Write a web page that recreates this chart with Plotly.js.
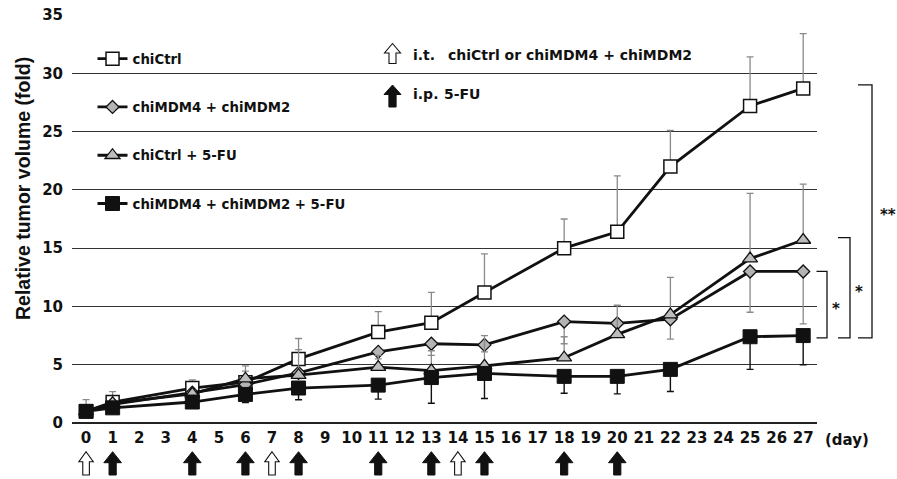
<!DOCTYPE html>
<html>
<head>
<meta charset="utf-8">
<script src="https://cdn.plot.ly/plotly-3.0.1.min.js"></script>
<style>html,body{margin:0;padding:0;background:#fff;}#chart{width:897px;height:479px;}</style>
</head>
<body>
<div id="chart"></div>
<script>
// ---- data ----
const days = [0, 1, 4, 6, 8, 11, 13, 15, 18, 20, 22, 25, 27];
const dayTicks = [0,1,2,3,4,5,6,7,8,9,10,11,12,13,14,15,16,17,18,19,20,21,22,23,24,25,26,27];
const yTicks = [0, 5, 10, 15, 20, 25, 30, 35];

const seriesNames = ['chiCtrl', 'chiMDM4 + chiMDM2', 'chiCtrl + 5-FU', 'chiMDM4 + chiMDM2 + 5-FU'];

const chiCtrl      = [1.0, 1.8, 3.0, 3.5, 5.5, 7.8, 8.6, 11.2, 15.0, 16.4, 22.0, 27.2, 28.7];
const chiCtrlErrUp = [1.0, 0.9, 0.7, 0.95, 1.75, 1.75, 2.6, 3.3, 2.5, 4.8, 3.1, 4.2, 4.7];

const chiMDM        = [1.0, 1.6, 2.6, 3.3, 4.3, 6.1, 6.8, 6.7, 8.7, 8.55, 8.9, 13.0, 13.0];
const chiMDMErrDown = [0.0, 0.2, 0.3, 0.5, 0.5, 0.6, 1.0, 0.6, 1.9, 1.2, 1.7, 3.5, 4.5];

const ctrl5FU      = [1.0, 1.7, 2.5, 3.8, 4.1, 4.8, 4.5, 4.9, 5.6, 7.6, 9.3, 14.1, 15.7];
const ctrl5FUErrUp = [0.0, 0.3, 0.3, 1.1, 2.2, 1.0, 1.7, 2.6, 1.8, 2.5, 3.2, 5.6, 4.8];

const mdm5FU        = [1.0, 1.3, 1.8, 2.45, 3.0, 3.25, 3.9, 4.25, 4.0, 4.0, 4.6, 7.4, 7.5];
const mdm5FUErrDown = [0.0, 0.2, 0.3, 0.7, 1.0, 1.2, 2.2, 2.15, 1.45, 1.5, 1.9, 2.8, 2.5];

const itDays = [0, 7, 14];                       // open arrows: i.t.
const ipDays = [1, 4, 6, 8, 11, 13, 15, 18, 20]; // filled arrows: i.p.

const itLabel = ['i.t.', 'chiCtrl or chiMDM4 + chiMDM2'];
const ipLabel = ['i.p.', '5-FU'];
const yTitle = 'Relative tumor volume (fold)';
const xUnit = '(day)';

// ---- styling ----
const FONT = 'DejaVu Sans, Liberation Sans, Arial, sans-serif';
const FONT_V = 'Liberation Sans, Arial, sans-serif';
const INK = '#111111';
const ERRGRAY = '#8a8a8a';
const L = 72, R = 80, T = 15, B = 56, W = 897, H = 479;
const PW = W - L - R;
const px2paperX = p => (p - L) / PW;
const zeros = days.map(() => 0);

function trace(name, y, group, marker, err) {
  return {
    x: days, y: y, name: name, type: 'scatter', mode: 'lines+markers',
    legendgroup: group, cliponaxis: false,
    line: {color: INK, width: 2.8},
    marker: marker,
    error_y: err,
    hoverinfo: 'x+y'
  };
}

const traces = [
  trace(seriesNames[0], chiCtrl, 'g1',
    {symbol: 'square', size: 13, color: '#ffffff', line: {color: INK, width: 1.5}},
    {type: 'data', symmetric: false, array: chiCtrlErrUp, arrayminus: zeros, color: ERRGRAY, thickness: 1.3, width: 3.5}),
  trace(seriesNames[1], chiMDM, 'g2',
    {symbol: 'diamond', size: 10, color: '#b4b4b4', line: {color: INK, width: 1.3}},
    {type: 'data', symmetric: false, array: zeros, arrayminus: chiMDMErrDown, color: ERRGRAY, thickness: 1.3, width: 3.5}),
  trace(seriesNames[2], ctrl5FU, 'g3',
    {symbol: 'triangle-up', size: 13, color: '#bdbdbd', line: {color: INK, width: 1.3}},
    {type: 'data', symmetric: false, array: ctrl5FUErrUp, arrayminus: zeros, color: ERRGRAY, thickness: 1.3, width: 3.5}),
  trace(seriesNames[3], mdm5FU, 'g4',
    {symbol: 'square', size: 14, color: INK, line: {color: INK, width: 1}},
    {type: 'data', symmetric: false, array: zeros, arrayminus: mdm5FUErrDown, color: INK, thickness: 1.4, width: 3.5})
];

// ---- arrows (pixel-sized shapes anchored on day positions) ----
function arrowPath(hh, sh, top, hb, bot) {
  return `M 0,${top} L ${hh},${hb} L ${sh},${hb} L ${sh},${bot} L ${-sh},${bot} L ${-sh},${hb} L ${-hh},${hb} Z`;
}
const shapes = [];
itDays.forEach(d => shapes.push({
  type: 'path', xref: 'x', xsizemode: 'pixel', xanchor: d,
  yref: 'paper', ysizemode: 'pixel', yanchor: 0,
  path: arrowPath(7.2, 3.3, -28.7, -38.7, -52),
  fillcolor: '#ffffff', line: {color: INK, width: 1.1}
}));
ipDays.forEach(d => shapes.push({
  type: 'path', xref: 'x', xsizemode: 'pixel', xanchor: d,
  yref: 'paper', ysizemode: 'pixel', yanchor: 0,
  path: arrowPath(8.8, 3.6, -28.7, -39.7, -52),
  fillcolor: INK, line: {color: INK, width: 1}
}));
// legend arrows
shapes.push({
  type: 'path', xref: 'paper', xsizemode: 'pixel', xanchor: px2paperX(392.5),
  yref: 'paper', ysizemode: 'pixel', yanchor: 1,
  path: arrowPath(8, 3.5, -28.5, -38, -48.5),
  fillcolor: '#ffffff', line: {color: INK, width: 1.1}
});
shapes.push({
  type: 'path', xref: 'paper', xsizemode: 'pixel', xanchor: px2paperX(392.5),
  yref: 'paper', ysizemode: 'pixel', yanchor: 1,
  path: arrowPath(8.5, 3.6, -70, -79.5, -92),
  fillcolor: INK, line: {color: INK, width: 1}
});

// ---- significance brackets (from final values) ----
const last = a => a[a.length - 1];
const yBottom = last(mdm5FU) - 0.2;
const brackets = [
  {top: last(chiMDM), x0: px2paperX(816.5), x1: px2paperX(827), star: '*', sx: px2paperX(836)},
  {top: last(ctrl5FU) + 0.2, x0: px2paperX(838), x1: px2paperX(850), star: '*', sx: px2paperX(859)},
  {top: last(chiCtrl) + 0.3, x0: px2paperX(858), x1: px2paperX(872), star: '**', sx: px2paperX(888)}
];
const annotations = [];
brackets.forEach(b => {
  shapes.push({
    type: 'path', xref: 'paper', yref: 'y',
    path: `M ${b.x0},${b.top} L ${b.x1},${b.top} L ${b.x1},${yBottom} L ${b.x0},${yBottom}`,
    line: {color: INK, width: 1.3}
  });
  annotations.push({
    xref: 'paper', yref: 'y', x: b.sx, y: (b.top + yBottom) / 2, yshift: -4,
    text: b.star, showarrow: false, xanchor: 'center', yanchor: 'middle',
    font: {family: FONT, size: 15, color: INK, weight: 'bold'}
  });
});

const txtFont = {family: FONT, size: 14, color: INK, weight: 'bold'};
annotations.push(
  {xref: 'paper', yref: 'paper', x: px2paperX(411), y: (423 - 55) / 408, text: itLabel[0], showarrow: false, xanchor: 'left', yanchor: 'middle', font: txtFont},
  {xref: 'paper', yref: 'paper', x: px2paperX(446), y: (423 - 55) / 408, text: itLabel[1], showarrow: false, xanchor: 'left', yanchor: 'middle', font: txtFont},
  {xref: 'paper', yref: 'paper', x: px2paperX(411), y: (423 - 94) / 408, text: ipLabel[0], showarrow: false, xanchor: 'left', yanchor: 'middle', font: txtFont},
  {xref: 'paper', yref: 'paper', x: px2paperX(442), y: (423 - 94) / 408, text: ipLabel[1], showarrow: false, xanchor: 'left', yanchor: 'middle', font: txtFont},
  {xref: 'paper', yref: 'paper', x: px2paperX(22.5), y: (423 - 188.5) / 408, text: yTitle, textangle: -90, showarrow: false, xanchor: 'center', yanchor: 'middle',
   font: {family: FONT_V, size: 19.5, color: INK, weight: 'bold'}},
  {xref: 'paper', yref: 'paper', x: px2paperX(823), y: (423 - 440) / 408, text: xUnit, showarrow: false, xanchor: 'left', yanchor: 'middle',
   font: {family: FONT, size: 15, color: INK, weight: 'bold'}}
);

const layout = {
  width: W, height: H,
  margin: {l: L, r: R, t: T, b: B, pad: 0},
  paper_bgcolor: '#ffffff', plot_bgcolor: '#ffffff',
  font: {family: FONT, color: INK},
  showlegend: true,
  legend: {
    x: px2paperX(92.5), xanchor: 'left', y: (423 - 43.5) / 408, yanchor: 'top',
    bgcolor: 'rgba(0,0,0,0)', borderwidth: 0,
    traceorder: 'grouped', tracegroupgap: 28,
    font: {family: FONT, size: 13.3, color: INK, weight: 'bold'},
    itemwidth: 30
  },
  xaxis: {
    range: [-0.53, 27.52], tickmode: 'array', tickvals: dayTicks, ticktext: dayTicks.map(String),
    showgrid: false, zeroline: false, showline: false, ticks: '',
    tickfont: {family: FONT, size: 15, color: INK, weight: 'bold'},
    ticklabelstandoff: 4, fixedrange: true
  },
  yaxis: {
    range: [0, 35], tickmode: 'array', tickvals: yTicks, ticktext: yTicks.map(String),
    showgrid: true, gridcolor: '#333333', gridwidth: 1.2,
    zeroline: true, zerolinecolor: '#222222', zerolinewidth: 1.6,
    showline: false, ticks: '',
    tickfont: {family: FONT, size: 15, color: INK, weight: 'bold'},
    ticklabelstandoff: 8, fixedrange: true
  },
  shapes: shapes,
  annotations: annotations
};

Plotly.newPlot('chart', traces, layout, {displayModeBar: false, staticPlot: true});
</script>
</body>
</html>
